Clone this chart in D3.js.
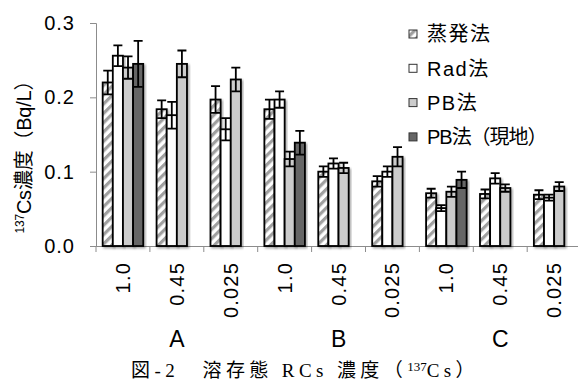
<!DOCTYPE html>
<html>
<head>
<meta charset="utf-8">
<script src="https://cdn.jsdelivr.net/npm/d3@7"></script>
<style>
  body { margin: 0; background: #fff; }
  svg { display: block; }
  text { font-family: "Liberation Sans", Arial, "Noto Sans CJK JP", sans-serif; fill: #000; }
</style>
</head>
<body>
<svg id="chart" width="578" height="381"></svg>
<script>
// 採水地点とろ過孔径
const sites = ["A", "B", "C"];
const poreSizes = ["1.0", "0.45", "0.025"];
const seriesNames = ["蒸発法", "Rad法", "PB法", "PB法（現地）"];

// 137Cs 濃度 (Bq/L) と誤差
const evapVals   = [0.220, 0.184, 0.197, 0.184, 0.100, 0.087, 0.071, 0.070, 0.069];
const evapErr    = [0.016, 0.012, 0.018, 0.013, 0.007, 0.007, 0.006, 0.006, 0.006];
const radVals    = [0.256, 0.176, 0.157, 0.197, 0.111, 0.100, 0.051, 0.091, 0.065];
const radErr     = [0.014, 0.018, 0.015, 0.011, 0.007, 0.007, 0.004, 0.007, 0.004];
const pbVals     = [0.240, 0.245, 0.224, 0.117, 0.105, 0.120, 0.073, 0.078, 0.080];
const pbErr      = [0.015, 0.018, 0.016, 0.010, 0.007, 0.013, 0.007, 0.005, 0.006];
const pbSiteVals = [0.245, null, null, 0.139, null, null, 0.089, null, null];
const pbSiteErr  = [0.031, null, null, 0.016, null, null, 0.011, null, null];
const yTicks = [0.0, 0.1, 0.2, 0.3];

const svg = d3.select("#chart");
const margin = {top: 23, left: 96};
const bandW = 53.9;

// カテゴリ (地点×孔径)
const cats = [];
sites.forEach(s => poreSizes.forEach(p => cats.push({site: s, pore: p, key: s + "_" + p})));

const allVals = [evapVals, radVals, pbVals, pbSiteVals];
const allErr = [evapErr, radErr, pbErr, pbSiteErr];
const rows = [];
cats.forEach((c, i) => {
  seriesNames.forEach((name, j) => {
    if (allVals[j][i] !== null) rows.push({cat: c.key, series: name, v: allVals[j][i], e: allErr[j][i]});
  });
});

const x0 = d3.scaleBand().domain(cats.map(c => c.key))
  .range([margin.left, margin.left + bandW * cats.length]).padding(0);
const x1 = d3.scaleBand().domain(seriesNames)
  .range([0, x0.bandwidth()]).paddingInner(0).paddingOuter(0.66);
const y = d3.scaleLinear().domain([0, 0.3]).range([246, margin.top]);

const defs = svg.append("defs");
const pat = defs.append("pattern").attr("id", "hatch")
  .attr("patternUnits", "userSpaceOnUse").attr("width", 6.6).attr("height", 6.6)
  .attr("patternTransform", "rotate(45)");
pat.append("rect").attr("width", 6.6).attr("height", 6.6).attr("fill", "#fff");
pat.append("rect").attr("width", 3.2).attr("height", 6.6).attr("fill", "#a0a0a0");

const shadow = defs.append("filter").attr("id", "shadow")
  .attr("x", "-30%").attr("y", "-10%").attr("width", "160%").attr("height", "130%");
shadow.append("feDropShadow").attr("dx", 1.5).attr("dy", 1.5).attr("stdDeviation", 1)
  .attr("flood-color", "#000").attr("flood-opacity", 0.35);

const fills = d3.scaleOrdinal().domain(seriesNames)
  .range(["url(#hatch)", "#ffffff", "#cccccc", "#666666"]);

// 軸
const yAxis = svg.append("g").attr("transform", `translate(${margin.left},0)`)
  .call(d3.axisLeft(y).tickValues(yTicks).tickFormat(d3.format(".1f")).tickSize(6).tickPadding(15));
yAxis.select(".domain").attr("stroke", "#8c8c8c");
yAxis.selectAll(".tick line").attr("stroke", "#8c8c8c");
yAxis.selectAll(".tick text").style("font-size", "20px").style("letter-spacing", "1px")
  .attr("font-family", null);

const xAxis = svg.append("g").attr("transform", `translate(0,${y(0)})`)
  .call(d3.axisBottom(x0).tickSize(0).tickFormat(""));
xAxis.select(".domain").attr("stroke", "#8c8c8c").attr("d", `M${margin.left},0.5H578`);
// 区切り目盛
svg.append("g").selectAll("line")
  .data(cats.map(c => x0(c.key)).concat([x0.range()[1]]))
  .join("line")
  .attr("x1", d => d).attr("x2", d => d)
  .attr("y1", y(0)).attr("y2", y(0) + 6)
  .attr("stroke", "#8c8c8c");

// 孔径ラベル (縦書き)
svg.append("g").selectAll("text").data(cats).join("text")
  .attr("transform", d => `translate(${x0(d.key) + x0.bandwidth() / 2},${y(0) + 16}) rotate(-90)`)
  .attr("text-anchor", "end").attr("dy", "0.35em")
  .style("font-size", "20px").style("letter-spacing", "1.2px")
  .text(d => d.pore);

// 地点ラベル
svg.append("g").selectAll("text").data(sites).join("text")
  .attr("x", s => {
    const ks = cats.filter(c => c.site === s).map(c => c.key);
    return (x0(ks[0]) + x0(ks[ks.length - 1]) + x0.bandwidth()) / 2;
  })
  .attr("y", 347).attr("text-anchor", "middle")
  .style("font-size", "23px")
  .text(s => s);

// 棒
const bars = svg.append("g");
bars.selectAll("rect").data(rows).join("rect")
  .attr("x", d => x0(d.cat) + x1(d.series))
  .attr("y", d => y(d.v))
  .attr("width", x1.bandwidth())
  .attr("height", d => y(0) - y(d.v))
  .attr("fill", d => fills(d.series))
  .attr("stroke", "#000").attr("stroke-width", 1.8)
  .attr("filter", "url(#shadow)");

// 誤差棒
const capW = 9;
const eb = svg.append("g").attr("stroke", "#000").attr("stroke-width", 1.8).attr("fill", "none");
eb.selectAll("path").data(rows).join("path")
  .attr("d", d => {
    const cx = x0(d.cat) + x1(d.series) + x1.bandwidth() / 2;
    const yt = y(d.v + d.e), yb = y(d.v - d.e);
    return `M${cx},${yt}V${yb}M${cx - capW / 2},${yt}H${cx + capW / 2}M${cx - capW / 2},${yb}H${cx + capW / 2}`;
  });

// 凡例
const legend = svg.append("g").selectAll("g").data(seriesNames).join("g")
  .attr("transform", (d, i) => `translate(409,${34 + i * 34.3})`);
legend.append("rect").attr("x", 0).attr("y", -4).attr("width", 8).attr("height", 8)
  .attr("fill", d => fills(d)).attr("stroke", "#333").attr("stroke-width", 1);
legend.append("text").attr("x", 18).attr("dy", "0.36em")
  .style("font-size", "20px").style("letter-spacing", "1.5px")
  .each(function(d, i) {
    if (i === seriesNames.length - 1) d3.select(this).attr("textLength", 122).attr("lengthAdjust", "spacing");
  })
  .text(d => d);

// 縦軸タイトル
const yt = svg.append("text")
  .attr("transform", "translate(31,152) rotate(-90)")
  .attr("text-anchor", "middle").style("font-size", "20px")
  .attr("textLength", 163).attr("lengthAdjust", "spacing");
yt.append("tspan").style("font-size", "12px").attr("dy", "-7").text("137");
yt.append("tspan").attr("dy", "7").text("Cs濃度（Bq/L）");

// 図題
const cap = svg.append("text").attr("x", 305).attr("y", 377).attr("text-anchor", "middle")
  .style("font-family", "'Liberation Serif', 'Noto Sans CJK JP', serif").style("font-size", "19px")
  .style("letter-spacing", "4.4px");
cap.append("tspan").text("図-2　溶存態 RCs 濃度（");
cap.append("tspan").style("font-size", "13px").style("letter-spacing", "0px").attr("dy", "-6").text("137");
cap.append("tspan").attr("dy", "6").text("Cs）");
</script>
</body>
</html>
